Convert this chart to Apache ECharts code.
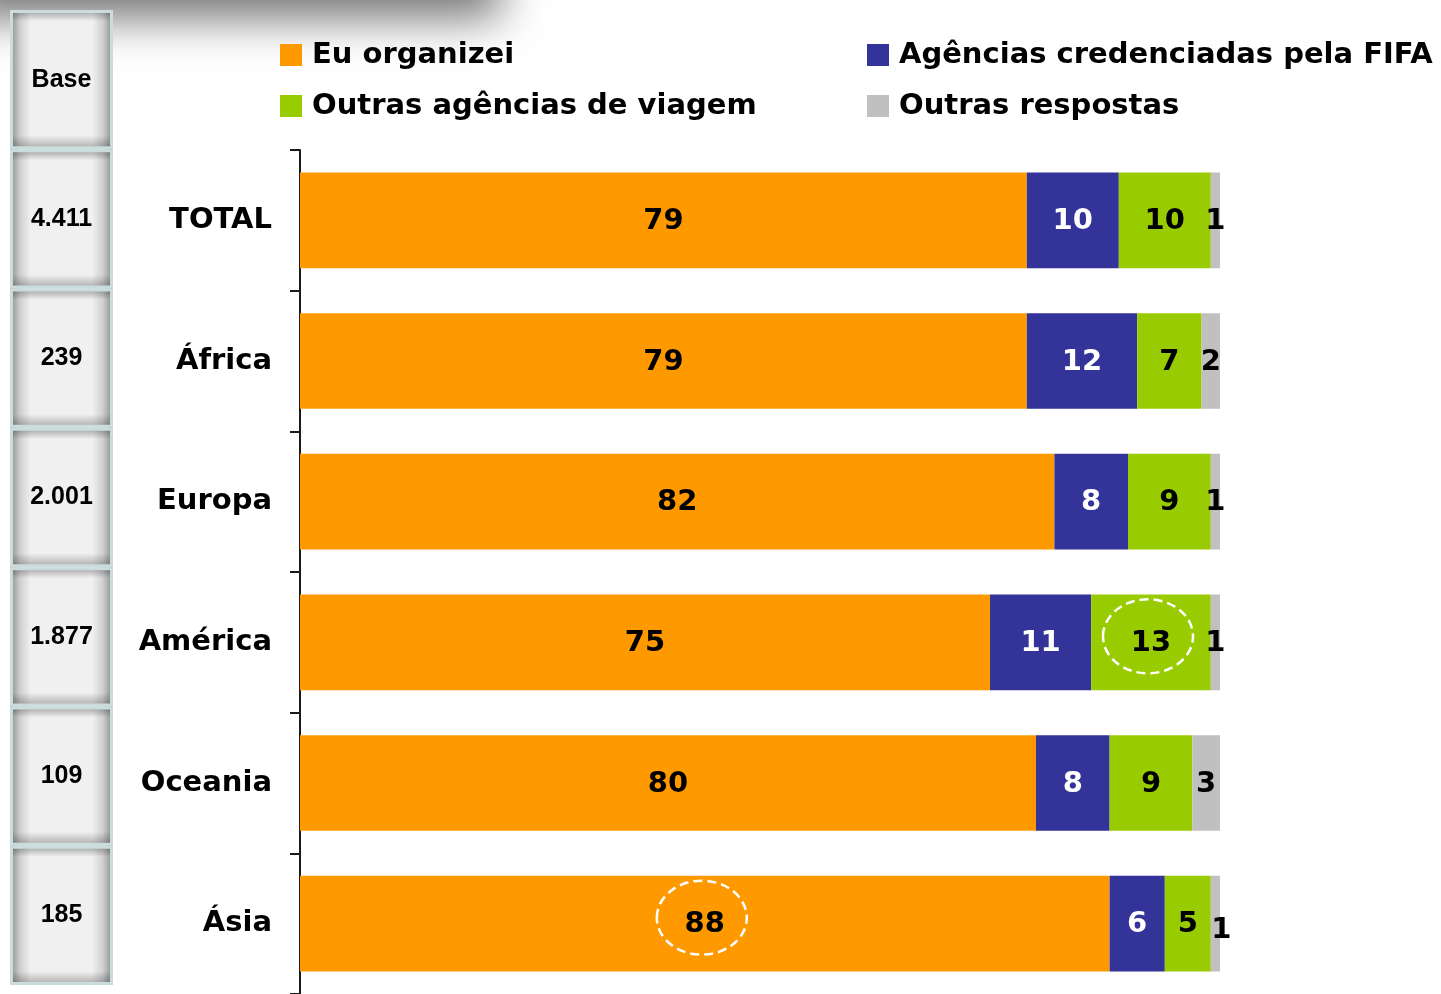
<!DOCTYPE html>
<html><head><meta charset="utf-8">
<script src="https://cdn.jsdelivr.net/npm/echarts@6/dist/echarts.min.js"></script>
<style>html,body{margin:0;padding:0;background:#fff}#c{width:1441px;height:994px}</style>
</head><body><div id="c"></div>
<script>
const categories = ['TOTAL', 'África', 'Europa', 'América', 'Oceania', 'Ásia'];
const baseHeader = 'Base';
const baseValues = ['4.411', '239', '2.001', '1.877', '109', '185'];
const seriesNames = ['Eu organizei', 'Agências credenciadas pela FIFA', 'Outras agências de viagem', 'Outras respostas'];
const euOrganizei = [79, 79, 82, 75, 80, 88];
const agenciasFifa = [10, 12, 8, 11, 8, 6];
const outrasAgencias = [10, 7, 9, 13, 9, 5];
const outrasRespostas = [1, 2, 1, 1, 3, 1];
const xTicks = [0, 100];
// highlighted cells: [seriesIndex, categoryIndex]
const highlights = [[2, 3], [0, 5]];

const colors = ['#FF9900', '#333399', '#99CC00', '#C0C0C0'];
const labelColors = ['#000', '#fff', '#000', '#000'];
const FONT = 'DejaVu Sans';
const allData = [euOrganizei, agenciasFifa, outrasAgencias, outrasRespostas];

const chart = echarts.init(document.getElementById('c'), null, {renderer: 'canvas'});

const mainSeries = allData.map((arr, si) => ({
  name: seriesNames[si],
  type: 'bar',
  stack: 'total',
  xAxisIndex: 0, yAxisIndex: 0,
  barWidth: '68%',
  itemStyle: {color: colors[si]},
  label: {
    show: true, position: 'inside', offset: [0, 1],
    color: labelColors[si], fontFamily: FONT, fontWeight: 'bold', fontSize: 29
  },
  data: arr.map((v, ci) => {
    if (si === 3 && ci === 5) return {value: v, label: {offset: [6, 7]}};
    return v;
  }),
  z: 3
}));

const baseCats = [baseHeader].concat(baseValues);
const baseSeries = [{
  type: 'bar', xAxisIndex: 1, yAxisIndex: 1,
  barCategoryGap: 0, barWidth: '100%',
  silent: true,
  itemStyle: {
    color: new echarts.graphic.LinearGradient(0, 0, 1, 0, [
      {offset: 0, color: '#8a8a8a'},
      {offset: 0.1, color: '#d0d0d0'},
      {offset: 0.2, color: '#f0f0f0'},
      {offset: 0.8, color: '#f0f0f0'},
      {offset: 0.9, color: '#d0d0d0'},
      {offset: 1, color: '#8a8a8a'}
    ])
  },
  data: baseCats.map(() => 1),
  z: 2
}, {
  type: 'bar', xAxisIndex: 1, yAxisIndex: 1,
  barCategoryGap: 0, barWidth: '100%', barGap: '-100%',
  silent: true,
  itemStyle: {
    color: new echarts.graphic.LinearGradient(0, 0, 0, 1, [
      {offset: 0, color: 'rgba(0,0,0,0.35)'},
      {offset: 0.08, color: 'rgba(0,0,0,0)'},
      {offset: 0.9, color: 'rgba(0,0,0,0)'},
      {offset: 1, color: 'rgba(0,0,0,0.3)'}
    ]),
    borderColor: '#cadcdc', borderWidth: 3
  },
  label: {
    show: true, position: 'inside',
    formatter: p => baseCats[p.dataIndex],
    color: '#000', fontFamily: 'Liberation Sans', fontWeight: 'bold', fontSize: 25
  },
  data: baseCats.map(() => 1),
  z: 3
}];

const legendText = {fontFamily: FONT, fontWeight: 'bold', fontSize: 29, color: '#000', lineHeight: 30, padding: [0, 0, 0, 5]};

const shadowRect = {
  type: 'rect', z: -10, silent: true,
  shape: {x: -40, y: -120, width: 540, height: 120},
  style: {fill: '#999', shadowBlur: 45, shadowOffsetY: 18, shadowColor: 'rgba(0,0,0,0.55)'}
};

chart.setOption({
  animation: false,
  backgroundColor: '#fff',
  legend: [{
    data: [seriesNames[0], seriesNames[2]],
    orient: 'vertical', left: 280, top: 40, padding: 0,
    itemWidth: 22, itemHeight: 22, itemGap: 21, icon: 'rect',
    textStyle: legendText, selectedMode: false
  }, {
    data: [seriesNames[1], seriesNames[3]],
    orient: 'vertical', left: 867, top: 40, padding: 0,
    itemWidth: 22, itemHeight: 22, itemGap: 21, icon: 'rect',
    textStyle: legendText, selectedMode: false
  }],
  grid: [
    {left: 300, top: 150, width: 920, height: 845},
    {left: 10, top: 10, width: 103, height: 975}
  ],
  xAxis: [
    {type: 'value', gridIndex: 0, min: xTicks[0], max: xTicks[1], show: false},
    {type: 'value', gridIndex: 1, min: 0, max: 1, show: false}
  ],
  yAxis: [{
    type: 'category', gridIndex: 0, inverse: true, data: categories,
    axisLine: {show: true, lineStyle: {color: '#1a1a1a', width: 2}},
    axisTick: {show: true, length: 10, lineStyle: {color: '#1a1a1a', width: 2}},
    axisLabel: {margin: 28, fontFamily: FONT, fontWeight: 'bold', fontSize: 29, color: '#000'}
  }, {
    type: 'category', gridIndex: 1, inverse: true, data: baseCats, show: false
  }],
  graphic: [shadowRect],
  series: mainSeries.concat(baseSeries)
});

// dashed ellipses around highlighted values, placed from the data
const ellipses = highlights.map(([si, ci]) => {
  let start = 0;
  for (let k = 0; k < si; k++) start += allData[k][ci];
  const mid = start + allData[si][ci] / 2;
  const p = chart.convertToPixel({gridIndex: 0}, [mid, categories[ci]]);
  return {
    type: 'ellipse', z: 100, silent: true,
    shape: {cx: p[0] - 3, cy: p[1] - 6, rx: 45, ry: 37},
    style: {fill: 'none', stroke: '#fff', lineWidth: 2.5, lineDash: [9, 5]}
  };
});
chart.setOption({graphic: [shadowRect].concat(ellipses)});
</script></body></html>
